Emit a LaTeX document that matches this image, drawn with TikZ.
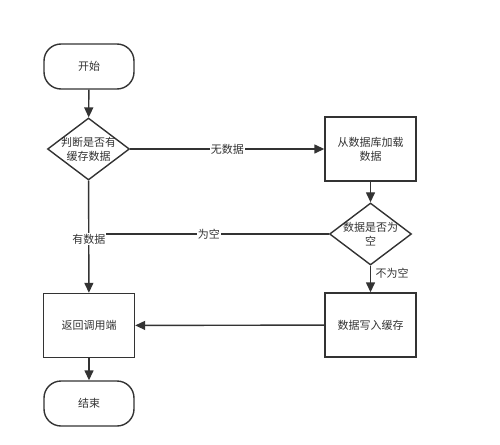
\documentclass[tikz,border=0pt]{standalone}
\usepackage{fontspec}
\newfontfamily\cjk{Noto Sans CJK SC}
\usetikzlibrary{shapes.geometric,arrows.meta}
\definecolor{ln}{HTML}{333333}
\begin{document}
\begin{tikzpicture}[x=1pt,y=-1pt,
  every node/.style={font=\cjk\fontsize{11}{14}\selectfont, text=ln},
  term/.style={draw=ln, line width=1.4pt, rounded corners=17pt, minimum width=90pt, minimum height=45pt, inner sep=0pt},
  proc/.style={draw=ln, line width=1.4pt, minimum width=91pt, minimum height=64pt, inner sep=0pt, align=center},
  dec/.style={draw=ln, line width=1.4pt, diamond, minimum width=82pt, minimum height=62pt, inner sep=-12pt, aspect=1.3, align=center},
  flow/.style={draw=ln, line width=1.4pt, -{Triangle[length=10pt,width=9pt]}},
  plain/.style={draw=ln, line width=1.4pt},
  lbl/.style={fill=white, inner sep=1pt}
]
\useasboundingbox (0,0) rectangle (500,444);
\node[term] (start) at (89,66.5) {开始};
\node[dec] (d1) at (88.5,149) {判断是否有\\缓存数据};
\node[proc] (load) at (370.5,149) {从数据库加载\\数据};
\node[dec] (d2) at (370.5,234) {数据是否为\\空};
\node[proc] (write) at (370.5,325) {数据写入缓存};
\node[proc] (ret) at (89,325.5) {返回调用端};
\node[term] (end) at (89,403.5) {结束};
\coordinate (j) at (d2.west -| ret.north);

\draw[flow] (start) -- (d1);
\draw[flow] (d1) -- node[lbl] {无数据} (load);
\draw[flow] (load) -- (d2);
\draw[flow] (d2) -- node[right, xshift=1pt, yshift=6pt] {不为空} (write);
\draw[plain] (d2.west) -- node[lbl, pos=0.5] {为空} (j);
\draw[flow] (d1) -- node[lbl, pos=0.52] {有数据} (ret);
\draw[flow] (write) -- (ret);
\draw[flow] (ret) -- (end);
\end{tikzpicture}
\end{document}
